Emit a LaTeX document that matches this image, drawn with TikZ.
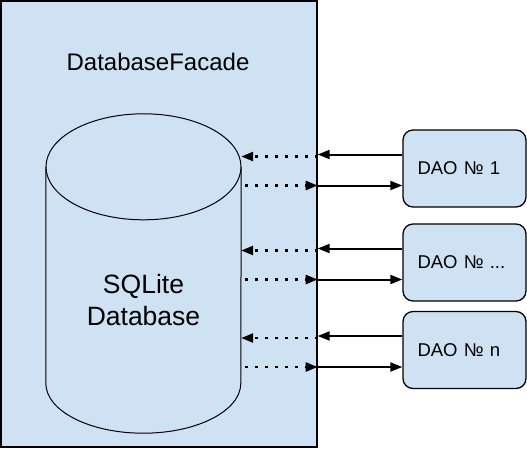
\documentclass[tikz,border=0pt]{standalone}
\usepackage{fontspec}
\setmainfont{Liberation Sans}
\usetikzlibrary{positioning,calc,arrows.meta}
\definecolor{boxblue}{HTML}{CFE2F3}

\begin{document}
\begin{tikzpicture}[x=1pt,y=-1pt,
  facadebox/.style={draw=black,fill=boxblue,line width=1.3pt,minimum width=316pt,minimum height=446pt,inner sep=0pt},
  daobox/.style={draw=black,fill=boxblue,line width=1.3pt,rounded corners=10pt,minimum height=77pt,text width=94pt,inner xsep=14.5pt,inner ysep=0pt,align=left,font=\fontsize{18.5}{22}\selectfont},
  callarrow/.style={line width=2pt,-{Triangle[length=12pt,width=9pt]}},
  dotarrow/.style={line width=2.5pt,dash pattern=on 2.5pt off 7.5pt,-{Triangle[length=12pt,width=9pt]}}]
\useasboundingbox (0,0) rectangle (527,448);

\node[facadebox] (facade) at (159,224) {};
\node[font=\fontsize{24}{28}\selectfont] (facadename) at (158,62) {DatabaseFacade};

\node[minimum width=195pt,minimum height=216pt,inner sep=0pt] (db) at (143.5,275) {};
\draw[line width=1pt,fill=boxblue] (db.north west) -- (db.south west)
       arc[start angle=180,end angle=360,x radius=97.5pt,y radius=50pt] -- (db.north east);
\draw[line width=1pt,fill=boxblue] (db.north) ellipse[x radius=97.5pt,y radius=53pt];
\node[align=center,font=\fontsize{26.5}{32}\selectfont] (dbname) at (143.5,300) {SQLite\\Database};

\node[daobox] (dao1) at (464.5,168.5) {DAO № 1};
\node[daobox] (daomid) at (464.5,262.5) {DAO № ...};
\node[daobox] (daon) at (464.5,350) {DAO № n};

\foreach \daoname in {dao1,daomid,daon}{
  \draw[callarrow] ($(\daoname.west)+(0,-14)$) -- ($(facade.east |- \daoname.west)+(0,-14)$);
  \draw[dotarrow] ($(facade.east |- \daoname.west)+(0,-12)$) -- ($(db.east |- \daoname.west)+(0,-12)$);
  \draw[dotarrow] ($(db.east |- \daoname.west)+(4,17)$) -- ($(facade.east |- \daoname.west)+(0,17)$);
  \draw[callarrow] ($(facade.east |- \daoname.west)+(0,17)$) -- ($(\daoname.west)+(0,17)$);
}

\end{tikzpicture}
\end{document}
